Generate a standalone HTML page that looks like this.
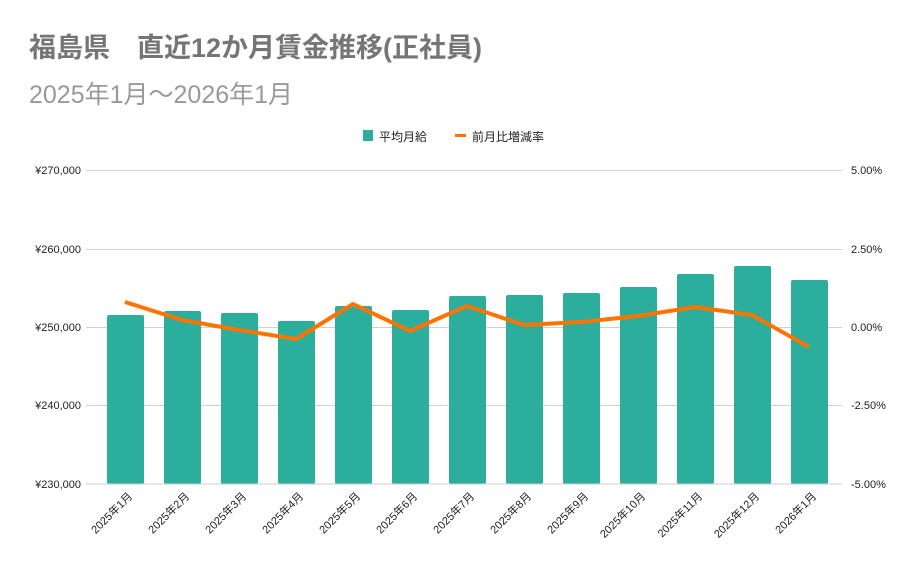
<!DOCTYPE html>
<html><head><meta charset="utf-8"><style>
html,body{margin:0;padding:0;background:#fff;}
svg{display:block;font-family:"Liberation Sans","Noto Sans CJK JP",sans-serif;}
</style></head><body>
<svg width="921" height="570" viewBox="0 0 921 570" xmlns="http://www.w3.org/2000/svg">
<rect width="921" height="570" fill="#fff"/>
<text x="29" y="57" font-size="27" font-weight="bold" fill="#757575">福島県　直近12か月賃金推移(正社員)</text>
<text x="29" y="103" font-size="25" fill="#999">2025年1月～2026年1月</text>
<rect x="363" y="130" width="10" height="11" fill="#2bae9b"/>
<text x="379" y="141" font-size="12" fill="#222">平均月給</text>
<rect x="455" y="134" width="11" height="3" fill="#ff7300"/>
<text x="472" y="141" font-size="12" fill="#222">前月比増減率</text>
<g stroke="#d0d0d0" stroke-width="1">
<line x1="86" y1="170.5" x2="842" y2="170.5"/>
<line x1="86" y1="249.5" x2="842" y2="249.5"/>
<line x1="86" y1="327.5" x2="842" y2="327.5"/>
<line x1="86" y1="405.5" x2="842" y2="405.5"/>
</g>
<g font-size="11" fill="#222" text-anchor="end">
<text x="81" y="174">¥270,000</text>
<text x="81" y="253">¥260,000</text>
<text x="81" y="331">¥250,000</text>
<text x="81" y="409">¥240,000</text>
<text x="81" y="488">¥230,000</text>
</g>
<g font-size="11" fill="#222">
<text x="851" y="174">5.00%</text>
<text x="851" y="253">2.50%</text>
<text x="851" y="331">0.00%</text>
<text x="851" y="409">-2.50%</text>
<text x="851" y="488">-5.00%</text>
</g>
<g fill="#2bae9b">
<rect x="107" y="315" width="37" height="169" rx="2"/>
<rect x="164" y="311" width="37" height="173" rx="2"/>
<rect x="221" y="313" width="37" height="171" rx="2"/>
<rect x="278" y="321" width="37" height="163" rx="2"/>
<rect x="335" y="306" width="37" height="178" rx="2"/>
<rect x="392" y="310" width="37" height="174" rx="2"/>
<rect x="449" y="296" width="37" height="188" rx="2"/>
<rect x="506" y="295" width="37" height="189" rx="2"/>
<rect x="563" y="293" width="37" height="191" rx="2"/>
<rect x="620" y="287" width="37" height="197" rx="2"/>
<rect x="677" y="274" width="37" height="210" rx="2"/>
<rect x="734" y="266" width="37" height="218" rx="2"/>
<rect x="791" y="280" width="37" height="204" rx="2"/>
</g>
<line x1="86" y1="484" x2="842" y2="484" stroke="#ccc" stroke-width="1"/>
<polyline fill="none" stroke="#ff7300" stroke-width="4" stroke-linejoin="round" points="125,302 182,320 239,330 296,339 353,304 410,331 467,306 524,325 581,322 638,316 695,307 752,315 809,347"/>
<g font-size="11" fill="#222" text-anchor="end">
<text transform="translate(133,497) rotate(-45)">2025年1月</text>
<text transform="translate(190,497) rotate(-45)">2025年2月</text>
<text transform="translate(247,497) rotate(-45)">2025年3月</text>
<text transform="translate(304,497) rotate(-45)">2025年4月</text>
<text transform="translate(361,497) rotate(-45)">2025年5月</text>
<text transform="translate(418,497) rotate(-45)">2025年6月</text>
<text transform="translate(475,497) rotate(-45)">2025年7月</text>
<text transform="translate(532,497) rotate(-45)">2025年8月</text>
<text transform="translate(589,497) rotate(-45)">2025年9月</text>
<text transform="translate(646,497) rotate(-45)">2025年10月</text>
<text transform="translate(703,497) rotate(-45)">2025年11月</text>
<text transform="translate(760,497) rotate(-45)">2025年12月</text>
<text transform="translate(817,497) rotate(-45)">2026年1月</text>
</g>
</svg>
</body></html>
